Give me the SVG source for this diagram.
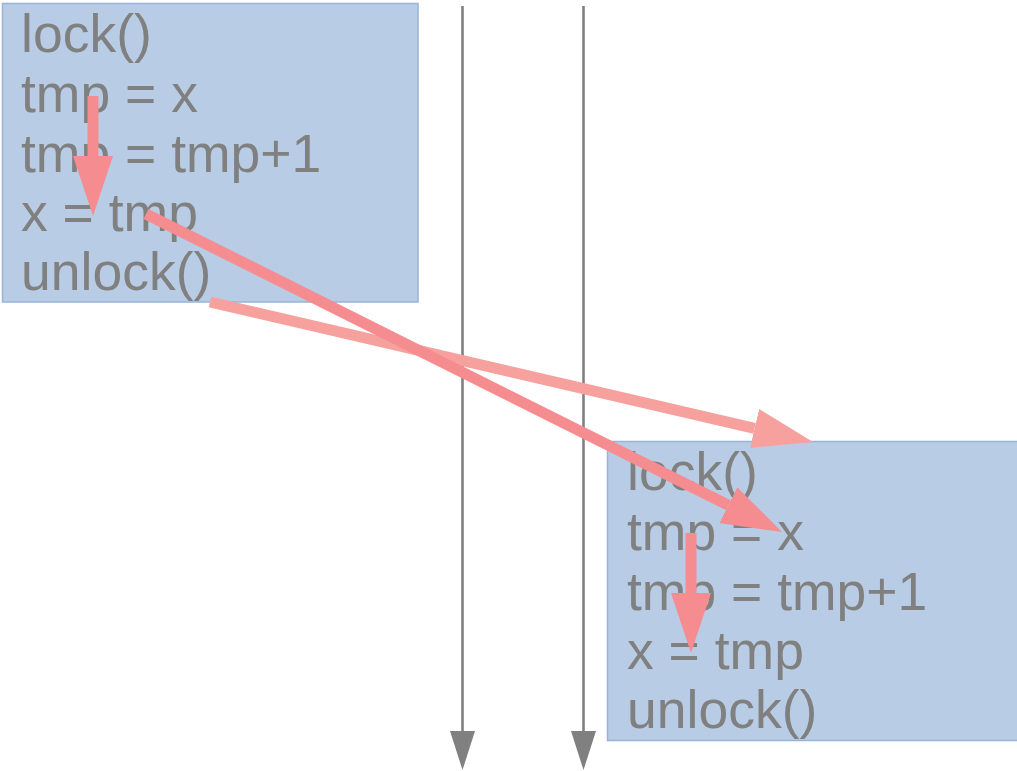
<svg xmlns="http://www.w3.org/2000/svg" width="1017" height="771" viewBox="0 0 1017 771">
<style>
.box{fill:#b8cde5;stroke:#98b3d6;stroke-width:1.5}
.code{font-family:"Liberation Sans",Arial,sans-serif;font-size:53.5px;fill:#808080}
.tl{stroke:#808080;stroke-width:2.6;fill:none}
.ra{stroke:#f58c90;stroke-width:11;fill:none}
.rb{stroke:#f6a19d;stroke-width:11;fill:none}
</style>
<defs>
<marker id="gh" markerUnits="userSpaceOnUse" markerWidth="40" markerHeight="30" refX="0" refY="12.5" orient="auto" viewBox="0 0 40 25">
<path d="M0,0 L39,12.5 L0,25 z" fill="#808080"/>
</marker>
<marker id="rha" markerUnits="userSpaceOnUse" markerWidth="60" markerHeight="40" refX="0" refY="20" orient="auto" viewBox="0 0 60 40">
<path d="M0,0 L60,20 L0,40 z" fill="#f58c90"/>
</marker>
<marker id="rhb" markerUnits="userSpaceOnUse" markerWidth="60" markerHeight="40" refX="0" refY="20" orient="auto" viewBox="0 0 60 40">
<path d="M0,0 L60,20 L0,40 z" fill="#f6a19d"/>
</marker>
</defs>
<g id="node-thread1">
<rect class="box" x="2.5" y="3.5" width="415.5" height="298.5"/>
<text class="code" x="21" y="52">lock()</text>
<text class="code" x="21" y="112">tmp = x</text>
<text class="code" x="21" y="172">tmp = tmp+1</text>
<text class="code" x="21" y="231">x = tmp</text>
<text class="code" x="21" y="290">unlock()</text>
</g>
<g id="node-thread2">
<rect class="box" x="607.5" y="441.5" width="416" height="299"/>
<text class="code" x="627" y="490">lock()</text>
<text class="code" x="627" y="550">tmp = x</text>
<text class="code" x="627" y="610">tmp = tmp+1</text>
<text class="code" x="627" y="669">x = tmp</text>
<text class="code" x="627" y="728">unlock()</text>
</g>
<g id="timelines">
<line class="tl" x1="462.5" y1="6" x2="462.5" y2="731" marker-end="url(#gh)"/>
<line class="tl" x1="583.5" y1="6" x2="583.5" y2="731" marker-end="url(#gh)"/>
</g>
<g id="connectors">
<line class="rb" x1="210" y1="302" x2="754.6" y2="428.4" marker-end="url(#rhb)"/>
<line class="ra" x1="146" y1="214" x2="728.3" y2="505.2" marker-end="url(#rha)"/>
<line class="ra" x1="93" y1="96" x2="93" y2="156" marker-end="url(#rha)"/>
<line class="ra" x1="691" y1="533" x2="691" y2="593" marker-end="url(#rha)"/>
</g>
</svg>
